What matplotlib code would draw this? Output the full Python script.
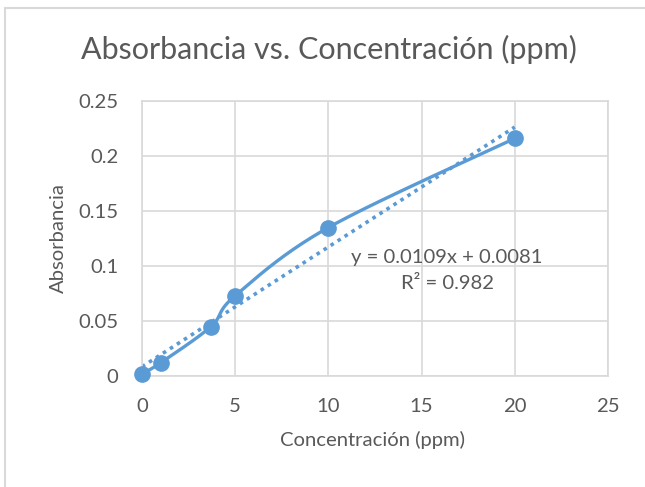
import numpy as np
import matplotlib
matplotlib.use("Agg")
import matplotlib.pyplot as plt
import matplotlib.patches as patches

# datos
conc = [0, 1, 3.7, 5, 10, 20]
absorb = [0.002, 0.012, 0.045, 0.073, 0.135, 0.216]
x_ticks = [0, 5, 10, 15, 20, 25]
y_ticks = [0, 0.05, 0.1, 0.15, 0.2, 0.25]
y_tick_labels = ['0', '0.05', '0.1', '0.15', '0.2', '0.25']
eq_text = 'y = 0.0109x + 0.0081'
r2_text = 'R² = 0.982'

blue = '#5B9BD5'
grid_c = '#D9D9D9'
txt_c = '#595959'
font = 'Lato'
fs = 14.6


def smooth_curve(xs, ys, sx, sy, n=40):
    """Curva suavizada tipo Excel (Bezier con puntos de control 1/6)."""
    p = np.column_stack([np.asarray(xs) / sx, np.asarray(ys) / sy])
    pts = np.vstack([p[0], p, p[-1]])
    out = []
    t = np.linspace(0, 1, n)[:, None]
    for i in range(1, len(pts) - 2):
        p0, p1, p2, p3 = pts[i - 1], pts[i], pts[i + 1], pts[i + 2]
        c1 = p1 + (p2 - p0) / 6
        c2 = p2 - (p3 - p1) / 6
        seg = ((1 - t) ** 3 * p1 + 3 * (1 - t) ** 2 * t * c1
               + 3 * (1 - t) * t ** 2 * c2 + t ** 3 * p2)
        out.append(seg)
    out = np.vstack(out)
    return out[:, 0] * sx, out[:, 1] * sy


fig = plt.figure(figsize=(6.45, 4.87), dpi=100)
ax = fig.add_axes([142 / 645, 1 - 376 / 487, (608 - 142) / 645, (376 - 101) / 487])

ax.set_xlim(0, 25)
ax.set_ylim(0, 0.25)
ax.set_xticks(x_ticks)
ax.set_yticks(y_ticks)
ax.set_yticklabels(y_tick_labels)
ax.grid(True, color=grid_c, lw=1.2)
ax.set_axisbelow(True)
for s in ax.spines.values():
    s.set_color(grid_c)
    s.set_linewidth(1.2)
ax.tick_params(axis='x', length=0, labelsize=fs, labelcolor=txt_c, pad=16)
ax.tick_params(axis='y', length=0, labelsize=fs, labelcolor=txt_c, pad=17)
for lab in ax.get_xticklabels() + ax.get_yticklabels():
    lab.set_fontfamily(font)

# línea suavizada
sxp, syp = smooth_curve(conc, absorb, 25, 0.25 * 275 / 466)
ax.plot(sxp, syp, color=blue, lw=2.4, solid_capstyle='round', zorder=3, clip_on=False)
ax.plot(conc, absorb, 'o', color=blue, ms=11, zorder=4, clip_on=False)

# línea de tendencia lineal
m, b = np.polyfit(conc, absorb, 1)
tx = np.array([min(conc), max(conc)])
ax.plot(tx, m * tx + b, color=blue, lw=2.6, ls=(0, (1, 1.3)), zorder=2)

ax.text(0.655, 0.43, eq_text, transform=ax.transAxes, ha='center', va='center',
        fontsize=fs, color=txt_c, family=font)
ax.text(0.655, 0.335, r2_text, transform=ax.transAxes, ha='center', va='center',
        fontsize=fs, color=txt_c, family=font)

fig.text(329 / 645, 1 - 49 / 487, 'Absorbancia vs. Concentración (ppm)', ha='center',
         va='center', fontsize=22, color=txt_c, family=font)
fig.text(373 / 645, 1 - 440 / 487, 'Concentración (ppm)', ha='center', va='center',
         fontsize=fs, color=txt_c, family=font)
fig.text(58 / 645, 1 - 238 / 487, 'Absorbancia', ha='center', va='center',
         rotation=90, fontsize=fs, color=txt_c, family=font)

# borde del área del gráfico
fig.patches.append(patches.Rectangle((5 / 645, -0.1), 1.2, 1.1 - 8 / 487,
                                     transform=fig.transFigure, fill=False,
                                     ec=grid_c, lw=1.5))

fig.savefig('out.png', dpi=100)
